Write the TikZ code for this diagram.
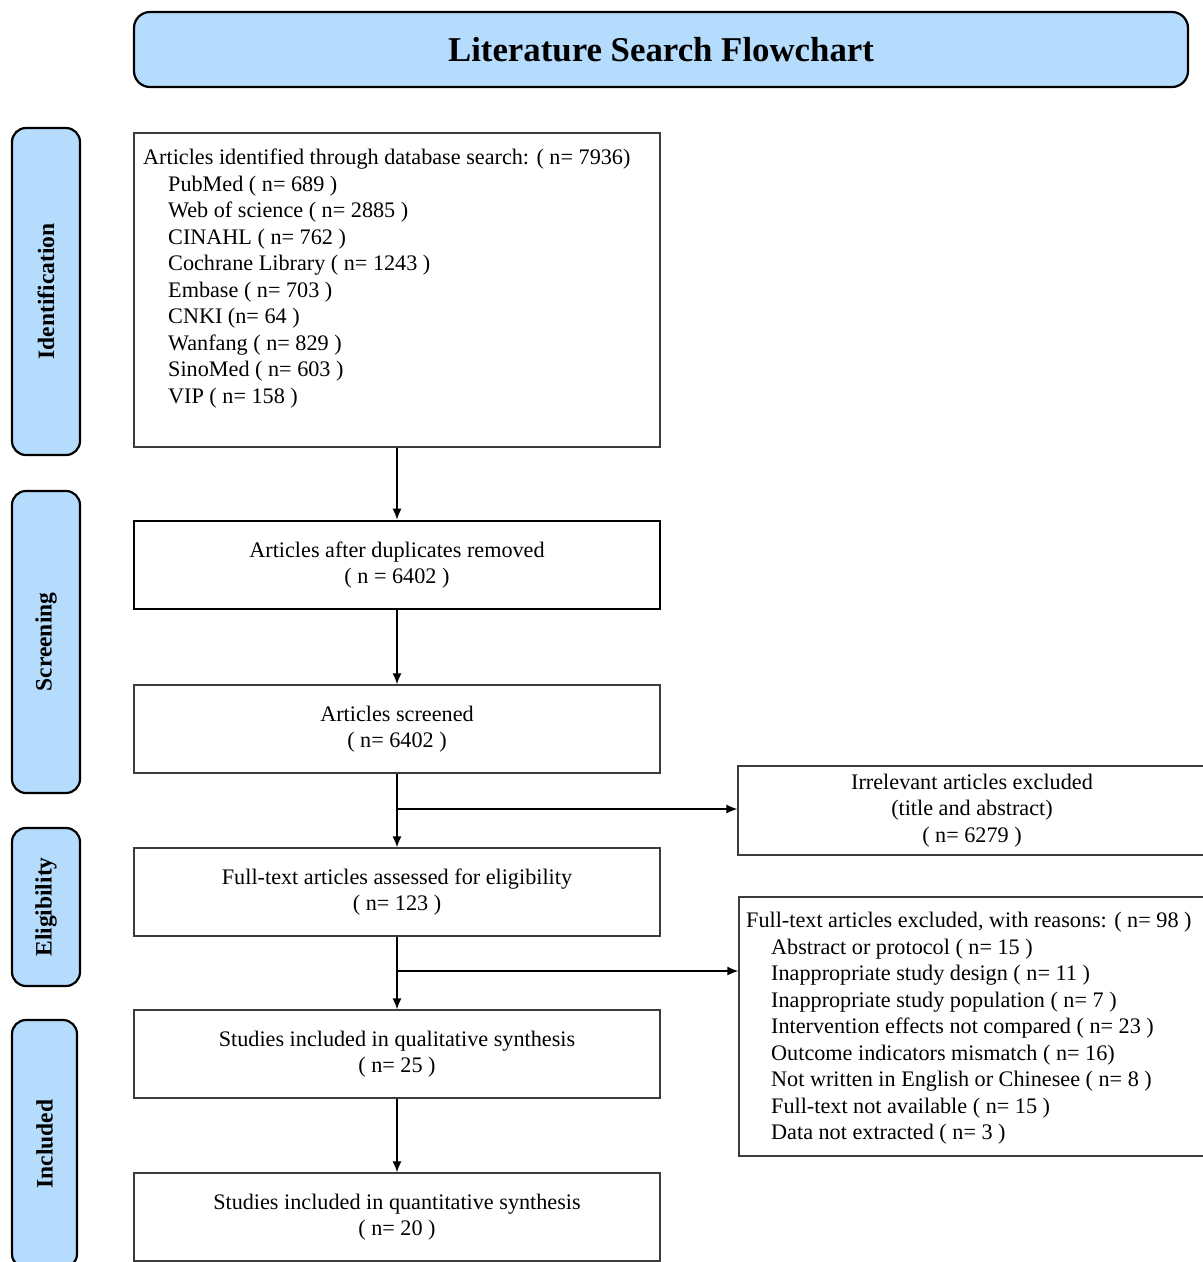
\documentclass[tikz,border=0pt]{standalone}
\usepackage{fontspec}
\setmainfont{Liberation Serif}
\usetikzlibrary{arrows.meta}
\definecolor{lblue}{RGB}{181,220,253}
\definecolor{edge}{RGB}{60,60,60}
\begin{document}
\begin{tikzpicture}[x=1pt,y=-1pt,
  box/.style={draw=edge, line width=1.3pt, minimum width=526pt, minimum height=88pt, align=center, inner sep=0pt, font=\fontsize{22.2}{26.6}\selectfont},
  rbox/.style={draw=edge, line width=1.3pt, inner sep=0pt},
  txt/.style={align=left, inner sep=0pt, font=\fontsize{22.2}{26.5}\selectfont},
  side/.style={draw=black, line width=2.2pt, fill=lblue, rounded corners=14pt, rotate=90, inner sep=0pt, font=\fontsize{23.5}{26}\selectfont\bfseries},
  arr/.style={draw=black, line width=1.4pt, -{Latex[length=11pt,width=9pt]}}]
\clip (0,0) rectangle (1203,1262);
% title
\node[draw=black, line width=2.2pt, fill=lblue, rounded corners=16pt, minimum width=1054pt, minimum height=75pt, font=\fontsize{34.8}{38}\selectfont\bfseries] (title) at (661,49.5) {Literature Search Flowchart};
% side labels
\node[side, minimum width=327pt, minimum height=68pt] (sid) at (46,291.5) {Identification};
\node[side, minimum width=302pt, minimum height=68pt] (sscr) at (46,642) {Screening};
\node[side, minimum width=158pt, minimum height=68pt] (selig) at (46,907) {Eligibility};
\node[side, minimum width=248pt, minimum height=65pt] (sinc) at (44.5,1144) {Included};
% main boxes
\node[rbox, minimum width=526pt, minimum height=314pt] (b1) at (397,290) {};
\node[txt, anchor=north west] (t1) at (143,149) {Articles identified through database search: ( n= 7936)\\
\hspace*{25pt}PubMed ( n= 689 )\\
\hspace*{25pt}Web of science ( n= 2885 )\\
\hspace*{25pt}CINAHL ( n= 762 )\\
\hspace*{25pt}Cochrane Library ( n= 1243 )\\
\hspace*{25pt}Embase ( n= 703 )\\
\hspace*{25pt}CNKI (n= 64 )\\
\hspace*{25pt}Wanfang ( n= 829 )\\
\hspace*{25pt}SinoMed ( n= 603 )\\
\hspace*{25pt}VIP ( n= 158 )};
\node[box, draw=black, line width=2.6pt] (b2) at (397,565) {Articles after duplicates removed\\( n = 6402 )};
\node[box] (b3) at (397,729) {Articles screened\\( n= 6402 )};
\node[box] (b5) at (397,892) {Full-text articles assessed for eligibility\\( n= 123 )};
\node[box] (b7) at (397,1054) {Studies included in qualitative synthesis\\( n= 25 )};
\node[box] (b8) at (397,1217) {Studies included in quantitative synthesis\\( n= 20 )};
% right boxes
\node[box, minimum width=468pt, minimum height=89pt] (b4) at (972,810.5) {Irrelevant articles excluded\\(title and abstract)\\( n= 6279 )};
\node[rbox, minimum width=467pt, minimum height=259pt] (b6) at (972.5,1026.5) {};
\node[txt, anchor=north west] (t6) at (746,912) {Full-text articles excluded, with reasons: ( n= 98 )\\
\hspace*{25pt}Abstract or protocol ( n= 15 )\\
\hspace*{25pt}Inappropriate study design ( n= 11 )\\
\hspace*{25pt}Inappropriate study population ( n= 7 )\\
\hspace*{25pt}Intervention effects not compared ( n= 23 )\\
\hspace*{25pt}Outcome indicators mismatch ( n= 16)\\
\hspace*{25pt}Not written in English or Chinesee ( n= 8 )\\
\hspace*{25pt}Full-text not available ( n= 15 )\\
\hspace*{25pt}Data not extracted ( n= 3 )};
% connectors
\coordinate (j1) at (397,809);
\coordinate (j2) at (397,971);
\draw[arr] (b1) -- (b2);
\draw[arr] (b2) -- (b3);
\draw[arr] (b3) -- (b5);
\draw[arr] (j1) -- (j1 -| b4.west);
\draw[arr] (b5) -- (b7);
\draw[arr] (j2) -- (j2 -| b6.west);
\draw[arr] (b7) -- (b8);
\end{tikzpicture}
\end{document}
